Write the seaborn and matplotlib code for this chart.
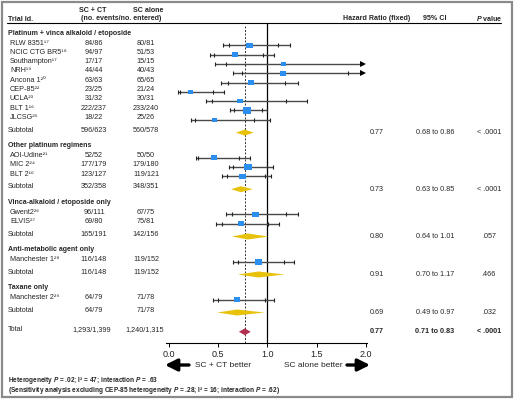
import numpy as np
import matplotlib
matplotlib.use("Agg")
import matplotlib.pyplot as plt
import seaborn as sns
from matplotlib.path import Path
from matplotlib.patches import Rectangle

# ---------------- data ----------------
groups = ["Platinum + vinca alkaloid / etoposide", "Other platinum regimens",
          "Vinca-alkaloid / etoposide only", "Anti-metabolic agent only", "Taxane only"]
trial_group = [0, 0, 0, 0, 0, 0, 0, 0, 0, 1, 1, 1, 2, 2, 3, 4]
trial_names = ["RLW 8351¹⁷", "NCIC CTG BR5¹⁸", "Southampton¹⁷", "NRH¹⁹", "Ancona 1²⁰",
               "CEP-85²²", "UCLA²³", "BLT 1¹⁶", "JLCSG²⁵", "AOI-Udine²¹", "MIC 2²⁴",
               "BLT 2¹⁶", "Gwent2²⁶", "ELVIS²⁷", "Manchester 1²⁸", "Manchester 2²⁹"]
ct_events = [84, 94, 17, 44, 63, 23, 31, 222, 18, 52, 177, 123, 96, 69, 116, 64]
ct_entered = [86, 97, 17, 44, 63, 25, 32, 237, 22, 52, 179, 127, 111, 80, 148, 79]
sc_events = [80, 51, 15, 40, 65, 21, 30, 233, 25, 50, 179, 119, 67, 75, 119, 71]
sc_entered = [81, 53, 15, 43, 65, 24, 31, 240, 26, 50, 180, 121, 75, 81, 152, 78]
hr = [0.82, 0.67, 1.16, 1.16, 0.83, 0.22, 0.72, 0.79, 0.46, 0.46, 0.80, 0.75, 0.88, 0.73, 0.91, 0.69]
ci99_lo = [0.55, 0.42, 0.47, 0.65, 0.53, 0.09, 0.38, 0.62, 0.22, 0.27, 0.61, 0.54, 0.58, 0.48, 0.65, 0.45]
ci95_lo = [0.61, 0.46, 0.58, 0.74, 0.60, 0.11, 0.44, 0.66, 0.26, 0.29, 0.65, 0.59, 0.64, 0.54, 0.70, 0.50]
ci95_hi = [1.11, 0.95, 2.30, 1.82, 1.18, 0.45, 1.19, 0.94, 0.86, 0.71, 0.99, 0.97, 1.19, 1.01, 1.17, 0.97]
ci99_hi = [1.23, 1.07, 2.86, 2.07, 1.31, 0.56, 1.40, 1.00, 1.03, 0.82, 1.06, 1.04, 1.31, 1.12, 1.27, 1.07]

sub_ct = ["596/623", "352/358", "165/191", "116/148", "64/79"]
sub_sc = ["560/578", "348/351", "142/156", "119/152", "71/78"]
sub_hr = [0.77, 0.73, 0.80, 0.91, 0.69]
sub_lo = [0.68, 0.63, 0.64, 0.70, 0.49]
sub_hi = [0.86, 0.85, 1.01, 1.17, 0.97]
sub_p = ["< .0001", "< .0001", ".057", ".466", ".032"]

total_ct = "1,293/1,399"
total_sc = "1,240/1,315"
total_hr, total_lo, total_hi, total_p = 0.77, 0.71, 0.83, "< .0001"

x_ticks = [0.0, 0.5, 1.0, 1.5, 2.0]

# ---------------- style ----------------
sns.set_theme(style="white")
plt.rcParams["font.family"] = ["Liberation Sans", "DejaVu Sans"]
plt.rcParams["mathtext.fontset"] = "custom"
plt.rcParams["mathtext.it"] = "Liberation Sans:italic:bold"
plt.rcParams["mathtext.rm"] = "Liberation Sans:bold"
plt.rcParams["mathtext.bf"] = "Liberation Sans:bold"

BLUE = "#2b8ff0"
GOLD = "#e8c20a"
RED = "#b2304f"
LINE = "#4a4a4a"

W, H = 514, 399
fig = plt.figure(figsize=(W / 100, H / 100), dpi=100)
bg = fig.add_axes([0, 0, 1, 1])
bg.set_xlim(0, W)
bg.set_ylim(H, 0)
bg.axis("off")

X0, X1 = 166, 367
XMIN, XMAX = -0.03, 2.01
Y_TOP, Y_AXIS = 22.5, 343
ax = fig.add_axes([X0 / W, 1 - Y_AXIS / H, (X1 - X0) / W, (Y_AXIS - Y_TOP) / H])
ax.set_xlim(XMIN, XMAX)
ax.set_ylim(Y_AXIS, Y_TOP)
ax.patch.set_alpha(0)
for s in ["top", "right", "left"]:
    ax.spines[s].set_visible(False)
ax.spines["bottom"].set_color("black")
ax.spines["bottom"].set_linewidth(0.8)
ax.set_yticks([])
ax.set_xticks(x_ticks)
ax.set_xticklabels([f"{t:.1f}" for t in x_ticks])
ax.tick_params(axis="x", bottom=True, length=3, width=0.7, color="black",
               labelsize=6.5, pad=2, labelcolor="#222222")

# ---------------- layout of rows ----------------
rows_head, rows_trial, rows_sub = [], [], []
y = 35.8
for g in range(len(groups)):
    rows_head.append(y)
    y += 9.6
    for i, tg in enumerate(trial_group):
        if tg == g:
            rows_trial.append(y)
            y += 9.3
    y += 12.8 - 9.3
    rows_sub.append(y)
    y += 15.6
y_total = rows_sub[-1] + 19.3
DY = -2.3   # left-hand text sits a little above the marks

# ---------------- left text ----------------
TS = 5.2
HS = 5.1
bg.text(93, 11, "SC + CT", ha="center", va="center", fontsize=HS, fontweight="bold")
bg.text(148, 11, "SC alone", ha="center", va="center", fontsize=HS, fontweight="bold")
bg.text(121, 19, "(no. events/no. entered)", ha="center", va="center", fontsize=HS, fontweight="bold")
bg.text(8, 19.5, "Trial Id.", ha="left", va="center", fontsize=HS, fontweight="bold")
bg.text(377, 18.5, "Hazard Ratio (fixed)", ha="center", va="center", fontsize=HS, fontweight="bold")
bg.text(435, 18.5, "95% CI", ha="center", va="center", fontsize=HS, fontweight="bold")
bg.text(489, 18.5, "$P$ value", ha="center", va="center", fontsize=HS, fontweight="bold")
bg.plot([7, 501], [22.5, 22.5], color="black", lw=0.8)

for g, yh in enumerate(rows_head):
    bg.text(8, yh + DY, groups[g], ha="left", va="center", fontsize=5.0, fontweight="bold")

for i, yt in enumerate(rows_trial):
    bg.text(10, yt + DY, trial_names[i], ha="left", va="center", fontsize=TS)
    bg.text(94, yt + DY, f"{ct_events[i]}/{ct_entered[i]}", ha="center", va="center", fontsize=TS)
    bg.text(146, yt + DY, f"{sc_events[i]}/{sc_entered[i]}", ha="center", va="center", fontsize=TS)

for g, ys in enumerate(rows_sub):
    bg.text(8, ys + DY, "Subtotal", ha="left", va="center", fontsize=TS)
    bg.text(94, ys + DY, sub_ct[g], ha="center", va="center", fontsize=TS)
    bg.text(146, ys + DY, sub_sc[g], ha="center", va="center", fontsize=TS)
    bg.text(377, ys, f"{sub_hr[g]:.2f}", ha="center", va="center", fontsize=TS)
    bg.text(435, ys, f"{sub_lo[g]:.2f} to {sub_hi[g]:.2f}", ha="center", va="center", fontsize=TS)
    bg.text(489, ys, sub_p[g], ha="center", va="center", fontsize=TS)

bg.text(8, y_total + DY, "Total", ha="left", va="center", fontsize=TS)
bg.text(92, y_total + DY, total_ct, ha="center", va="center", fontsize=TS)
bg.text(145, y_total + DY, total_sc, ha="center", va="center", fontsize=TS)
bg.text(377, y_total, f"{total_hr:.2f}", ha="center", va="center", fontsize=TS, fontweight="bold")
bg.text(435, y_total, f"{total_lo:.2f} to {total_hi:.2f}", ha="center", va="center", fontsize=TS, fontweight="bold")
bg.text(489, y_total, total_p, ha="center", va="center", fontsize=TS, fontweight="bold")

# ---------------- forest ----------------
ax.axvline(1.0, color="black", lw=0.9, zorder=1)
ax.vlines(total_hr, 26, Y_AXIS, colors="#333333", linestyles=(0, (2, 1.6)), lw=0.7, zorder=1)

clip = 1.97
for i, yt in enumerate(rows_trial):
    lo, hi = ci99_lo[i], min(ci99_hi[i], clip)
    ax.hlines(yt, lo, hi, color=LINE, lw=1.0, zorder=2)
    ticks_x = [ci99_lo[i], ci95_lo[i]] + [v for v in (ci95_hi[i], ci99_hi[i]) if v < clip]
    ax.plot(ticks_x, [yt] * len(ticks_x), ls="none", marker="|", ms=3.2, mew=0.8, color="#222222", zorder=3)
    if ci99_hi[i] > clip:
        ax.plot([clip], [yt], ls="none", marker=">", ms=3.8, color="black", mew=0, zorder=3)

# boxes sized by number of events
rect = Path([(-1, -0.8), (1, -0.8), (1, 0.8), (-1, 0.8), (-1, -0.8)],
            [Path.MOVETO, Path.LINETO, Path.LINETO, Path.LINETO, Path.CLOSEPOLY])
events = np.array(ct_events) + np.array(sc_events)
box_px = 3.8 + 0.22 * np.sqrt(events)
sns.scatterplot(x=hr, y=rows_trial, s=(box_px * 0.72) ** 2, marker=rect, color=BLUE,
                linewidth=0, ax=ax, zorder=4, legend=False)

DH = 3.0
for g, ys in enumerate(rows_sub):
    ax.fill([sub_lo[g], sub_hr[g], sub_hi[g], sub_hr[g]], [ys, ys - DH, ys, ys + DH],
            color=GOLD, lw=0, zorder=4)
ax.fill([total_lo, total_hr, total_hi, total_hr], [y_total, y_total - 3.4, y_total, y_total + 3.4],
        color=RED, lw=0, zorder=4)
ax.set_xlabel("")
ax.set_ylabel("")

# ---------------- bottom arrows ----------------
arr = dict(arrowstyle="-|>,head_length=0.6,head_width=0.3", lw=2.4, color="black",
           shrinkA=0, shrinkB=0)
bg.annotate("", xy=(165, 365), xytext=(189, 365), arrowprops=arr)
bg.annotate("", xy=(370, 365), xytext=(347, 365), arrowprops=arr)
bg.text(195, 365.5, "SC + CT better", ha="left", va="center", fontsize=6.0)
bg.text(343, 365.5, "SC alone better", ha="right", va="center", fontsize=6.0)

# ---------------- footnotes ----------------
bg.text(8, 381, "Heterogeneity $P$ = .02; I² = 47; interaction $P$ = .63",
        ha="left", va="center", fontsize=4.7, fontweight="bold")
bg.text(8, 390.5, "(Sensitivity analysis excluding CEP-85 heterogeneity $P$ = .28; I² = 16; interaction $P$ = .62)",
        ha="left", va="center", fontsize=4.7, fontweight="bold")

bg.add_patch(Rectangle((1.5, 1.5), W - 3.5, H - 3.5, fill=False, ec="#8a8a8a", lw=1.6))

fig.savefig("out.png", dpi=100)
